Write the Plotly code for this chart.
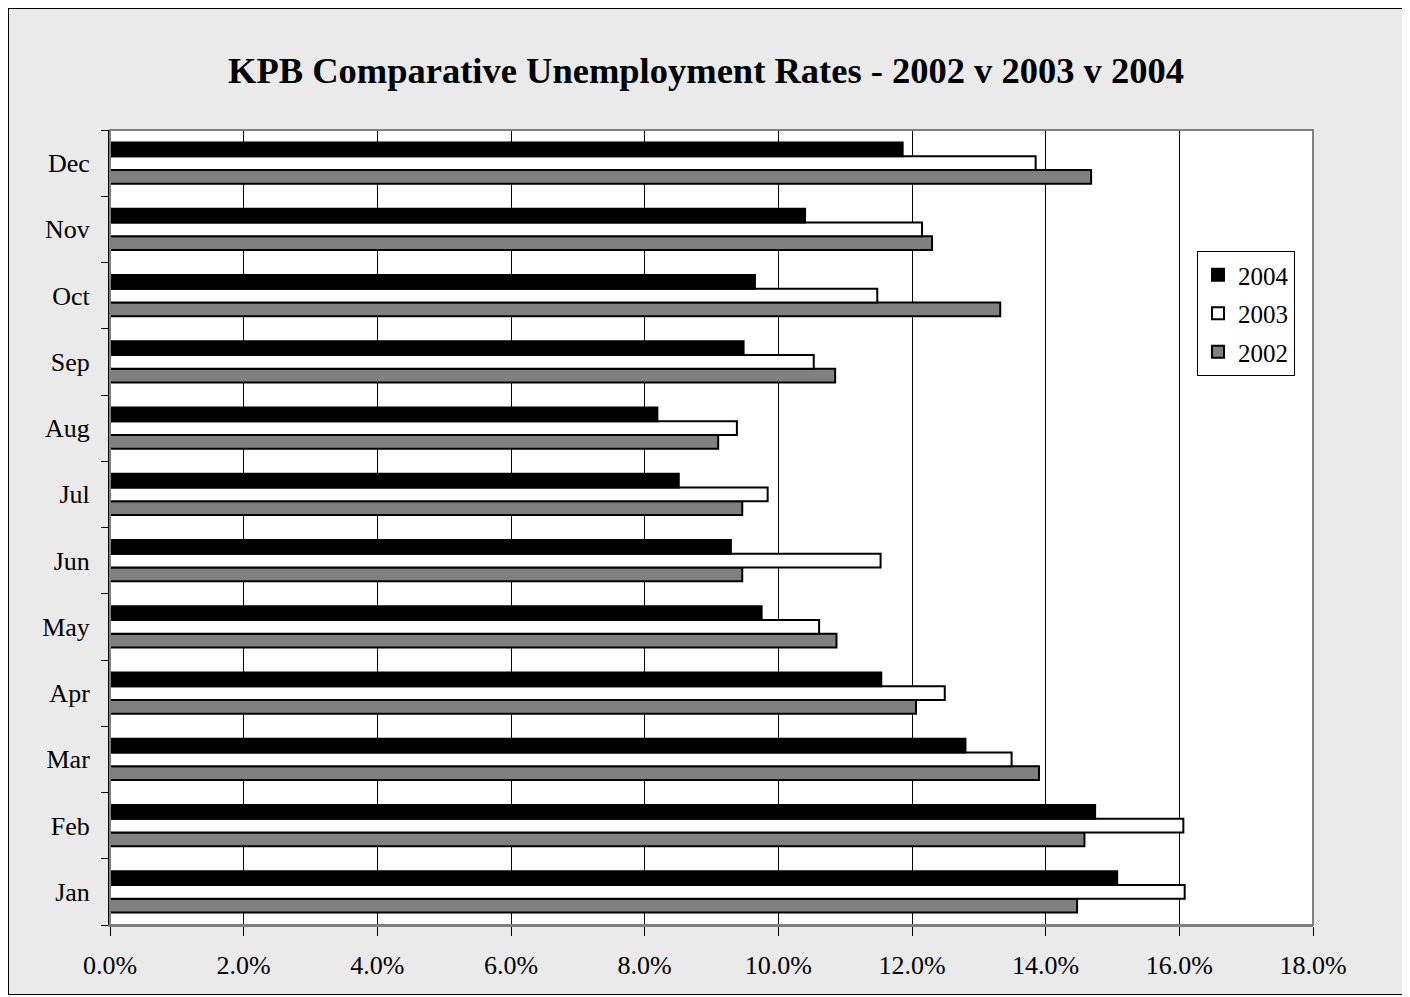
import plotly.graph_objects as go

months = ["Jan", "Feb", "Mar", "Apr", "May", "Jun", "Jul", "Aug", "Sep", "Oct", "Nov", "Dec"]
rate_2004 = [15.07, 14.74, 12.80, 11.54, 9.75, 9.29, 8.51, 8.19, 9.48, 9.65, 10.40, 11.86]
rate_2003 = [16.08, 16.06, 13.49, 12.49, 10.61, 11.53, 9.84, 9.38, 10.53, 11.48, 12.15, 13.85]
rate_2002 = [14.47, 14.58, 13.90, 12.06, 10.87, 9.46, 9.46, 9.10, 10.85, 13.32, 12.30, 14.68]
x_ticks = [0, 2, 4, 6, 8, 10, 12, 14, 16, 18]

series = [
    ("2002", rate_2002, "#808080", 3),
    ("2003", rate_2003, "#FFFFFF", 2),
    ("2004", rate_2004, "#000000", 1),
]

FONT = "Liberation Serif, Times New Roman, serif"

W, H = 1396, 987
L, R, T, B = 102, 91, 122, 70
PW, PH = W - L - R, H - T - B

fig = go.Figure()
for name, vals, color, rank in series:
    fig.add_trace(go.Bar(
        y=months, x=vals, name=name, orientation="h",
        marker=dict(color=color, line=dict(color="#000000", width=2)),
        legendgroup=name, legendrank=rank,
    ))

fig.update_layout(
    width=W, height=H,
    margin=dict(l=L, r=R, t=T, b=B),
    paper_bgcolor="#EAEAEA",
    plot_bgcolor="#FFFFFF",
    barmode="group",
    bargap=0.38,
    bargroupgap=0.0,
    font=dict(family=FONT, size=26, color="#000000"),
    title=dict(
        text="<b>KPB Comparative Unemployment Rates - 2002 v 2003 v 2004</b>",
        x=0.5, xanchor="center", y=1 - 62 / H, yanchor="middle",
        font=dict(family=FONT, size=36.5, color="#000000"),
    ),
    legend=dict(
        x=(1197 - 110) / PW, xanchor="left",
        y=(925 - 251) / PH, yanchor="top",
        traceorder="grouped",
        tracegroupgap=3,
        bgcolor="#FFFFFF", bordercolor="#000000", borderwidth=1,
        font=dict(family=FONT, size=25),
        itemwidth=30,
    ),
    xaxis=dict(
        range=[0, 18],
        tickvals=x_ticks,
        ticktext=[f"{v:.1f}%" for v in x_ticks],
        showgrid=True, gridcolor="#000000", gridwidth=1,
        zeroline=False,
        showline=True, linecolor="#808080", linewidth=2,
        ticks="outside", ticklen=9, tickcolor="#000000",
        ticklabelstandoff=7,
        fixedrange=True,
    ),
    yaxis=dict(
        categoryorder="array", categoryarray=months,
        tickson="boundaries",
        ticks="outside", ticklen=7, tickcolor="#000000",
        showline=True, linecolor="#000000", linewidth=2,
        showgrid=False, zeroline=False,
        ticklabelstandoff=13,
        fixedrange=True,
    ),
    shapes=[
        dict(type="rect", xref="paper", yref="paper", layer="below",
             x0=-L / PW, x1=(W - L) / PW,
             y0=-B / PH, y1=(H - B) / PH,
             fillcolor="rgba(0,0,0,0)", line=dict(color="#000000", width=2)),
        dict(type="rect", xref="paper", yref="paper", layer="above",
             x0=0, x1=1, y0=0, y1=1,
             fillcolor="rgba(0,0,0,0)", line=dict(color="#808080", width=2)),
    ],
)

fig.write_html("out.html")
